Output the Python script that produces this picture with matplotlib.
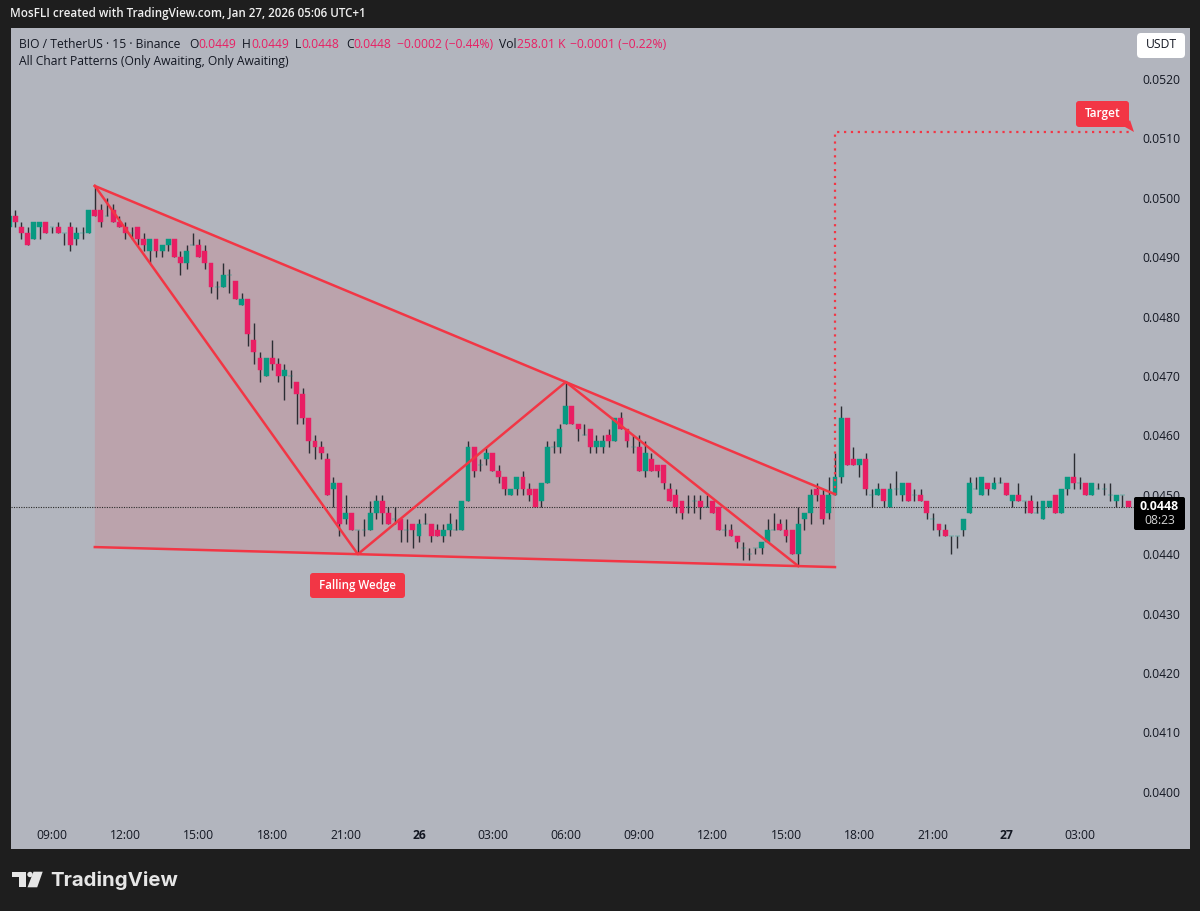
import numpy as np
import matplotlib
matplotlib.use('Agg')
import matplotlib.pyplot as plt
from matplotlib.patches import Polygon, FancyBboxPatch

# candles, prices in units of 0.0001, first bar is 7 bars before 09:00
opens = [495,497,495,494,493,495,496,495,495,494,
         495,493,494,494,498,498,497,498,496,495,
         494,495,493,491,493,491,492,493,490,489,
         492,492,491,489,485,485,487,486,482,483,
         476,473,470,473,472,470,470,469,467,463,
         459,458,456,451,452,446,447,444,444,444,
         447,449,447,446,446,444,445,443,445,445,
         444,443,444,444,444,449,458,455,456,457,
         454,453,450,451,453,451,451,449,452,458,
         458,462,465,462,460,461,458,458,460,459,
         463,461,458,458,454,456,455,455,451,450,
         449,448,449,449,448,449,448,444,444,443,
         441,440,441,441,442,444,445,444,444,440,
         446,447,451,450,447,450,453,463,456,455,
         456,450,450,451,448,451,450,452,450,450,
         449,446,445,444,443,443,444,447,451,450,
         452,451,452,452,449,450,449,449,447,446,
         448,450,447,451,453,452,452,450,451,451,
         450,449,450,449]
highs = [497,498,496,495,496,496,496,495,496,494,
         496,495,495,498,502,499,500,499,497,496,
         495,495,494,493,493,492,493,493,491,492,
         494,493,492,489,486,489,488,486,484,483,
         479,474,473,476,473,472,471,469,468,463,
         460,459,457,453,452,450,447,444,446,449,
         450,450,448,448,446,446,445,446,447,445,
         445,445,447,446,449,459,458,456,458,457,
         455,453,451,453,454,452,451,452,459,459,
         462,469,465,462,462,461,460,460,461,463,
         464,461,460,460,459,457,455,455,452,451,
         449,450,450,450,450,449,448,445,445,443,
         442,441,441,442,446,447,446,446,444,448,
         447,451,452,451,453,457,465,463,458,456,
         457,451,452,451,452,454,452,452,451,451,
         449,447,445,445,443,443,446,453,453,453,
         452,453,453,452,450,452,449,450,449,449,
         449,450,451,453,457,453,452,452,452,452,
         452,450,450,449]
lows = [495,495,493,492,493,493,494,494,494,492,
        491,492,493,494,497,495,497,496,495,493,
        493,492,491,489,490,490,491,490,487,488,
        492,490,488,484,483,485,484,483,482,475,
        472,469,470,471,469,466,468,462,462,457,
        456,456,450,448,443,445,444,440,443,444,
        446,445,445,445,442,442,441,442,445,442,
        443,442,443,444,444,449,453,454,455,454,
        452,450,450,450,450,449,448,448,452,457,
        457,462,462,459,460,457,457,457,458,459,
        461,458,457,454,453,454,453,451,449,447,
        446,447,447,446,448,447,444,443,443,441,
        439,439,440,440,442,444,444,442,440,438,
        444,445,449,445,446,450,452,455,455,453,
        450,448,450,448,448,450,449,449,449,449,
        446,444,443,443,440,441,443,447,451,450,
        450,451,452,450,448,449,447,447,447,446,
        448,447,447,450,451,451,450,450,451,450,
        449,448,448,448]
closes = [497,496,494,492,496,496,494,495,494,494,
          492,494,494,498,497,496,497,496,495,494,
          494,493,492,493,491,492,493,490,489,491,
          492,490,489,485,485,487,487,483,483,477,
          474,471,473,472,470,471,470,467,463,459,
          458,457,450,452,445,447,444,444,444,447,
          449,447,445,446,444,444,444,445,445,443,
          443,444,445,444,449,458,454,455,457,454,
          453,451,451,453,451,450,448,452,458,458,
          461,465,462,461,460,458,459,459,459,463,
          461,459,458,454,457,454,454,452,449,448,
          447,448,449,448,448,447,444,444,443,442,
          441,440,441,442,444,444,444,443,440,445,
          447,450,450,446,450,453,463,455,455,456,
          451,450,451,449,451,451,452,449,450,449,
          447,446,444,443,443,443,446,452,451,453,
          451,452,452,450,450,449,449,447,447,449,
          449,447,451,453,452,452,450,452,451,451,
          450,450,450,448]
first_bar = -7

# pattern lines, (bar, price in 0.0001)
upper_bars = [7, 128]
upper_prices = [502, 450.1]
lower_bars = [7, 128]
lower_prices = [441.2, 437.83]
zigzag_bars = [7, 50, 84, 122]
zigzag_prices = [502, 440, 469, 438]
target_bars = [128, 128, 176.7]
target_prices = [450, 511, 511]
last_price = 448

price_ticks = [400,410,420,430,440,450,460,470,480,490,500,510,520]
time_ticks = [0,12,24,36,48,60,72,84,96,108,120,132,144,156,168]
time_labels = ['09:00','12:00','15:00','18:00','21:00','26','03:00','06:00',
               '09:00','12:00','15:00','18:00','21:00','27','03:00']

frame = '#1e1e1e'
chart_bg = '#b2b5be'
green = '#089981'
pink = '#e91e63'
red = '#f23645'
dark = '#131722'
font = 'Open Sans'

W, H = 1200, 911
plt.rcParams['font.family'] = [font, 'DejaVu Sans']
fig = plt.figure(figsize=(W/100, H/100), dpi=100, facecolor=frame)

def fx(x):
    return x/W

def fy(y):
    return 1 - y/H

def label(x, y, s, **kw):
    kw.setdefault('va', 'center')
    kw.setdefault('color', dark)
    kw.setdefault('fontsize', 8.7)
    return fig.text(fx(x), fy(y), s, **kw)

def box(x0, y0, x1, y1, col, radius=3, zorder=1):
    # rounded rectangle given in picture pixels
    patch = FancyBboxPatch((x0, H-y1), x1-x0, y1-y0, boxstyle='round,pad=0,rounding_size=%g' % radius,
                           fc=col, ec='none', transform=None, zorder=zorder)
    fig.add_artist(patch)

ax = fig.add_axes([fx(11), fy(849), (1190-11)/W, (849-28)/H], facecolor=chart_bg)
ax.set_xlim((11-52)/6.117, (1190-52)/6.117)
ax.set_ylim((520-(849-79)/5.94)*1e-4, (520-(28-79)/5.94)*1e-4)
for s in ax.spines.values():
    s.set_visible(False)

o = np.array(opens)*1e-4
h = np.array(highs)*1e-4
l = np.array(lows)*1e-4
c = np.array(closes)*1e-4
bars = np.arange(first_bar, first_bar+len(o))

# shaded wedge behind the candles
wedge = Polygon([(upper_bars[0], upper_prices[0]*1e-4), (upper_bars[1], upper_prices[1]*1e-4),
                 (lower_bars[1], lower_prices[1]*1e-4), (lower_bars[0], lower_prices[0]*1e-4)],
                closed=True, fc=red, ec='none', alpha=0.14, zorder=1)
ax.add_patch(wedge)

# candles
ax.axhline(last_price*1e-4, color='#2a2a2a', lw=0.8, ls=(0, (1, 1.2)), zorder=1.5, xmax=(1134-11)/(1190-11))
ax.vlines(bars, l, h, color='#2b2d33', lw=1.0, zorder=2)
colors = [green if cc >= oo else pink for oo, cc in zip(o, c)]
ax.bar(bars, np.abs(c-o), bottom=np.minimum(o, c), width=0.8, color=colors,
       edgecolor=colors, linewidth=0.3, zorder=3)

# pattern lines
ax.plot(upper_bars, np.array(upper_prices)*1e-4, color=red, lw=1.8, zorder=4)
ax.plot(lower_bars, np.array(lower_prices)*1e-4, color=red, lw=1.8, zorder=4)
ax.plot(zigzag_bars, np.array(zigzag_prices)*1e-4, color=red, lw=1.8, zorder=4)
ax.plot(target_bars, np.array(target_prices)*1e-4, color=red, lw=1.6, ls=(0, (1, 2.1)), zorder=4)

# axes labels sit inside the chart
ax.yaxis.tick_right()
ax.set_yticks(np.array(price_ticks)*1e-4)
ax.set_yticklabels(['%.4f' % (p*1e-4) for p in price_ticks])
ax.tick_params(axis='y', length=0, pad=-34, labelsize=8.7, labelcolor=dark)
ax.set_xticks(time_ticks)
ax.set_xticklabels(time_labels)
ax.tick_params(axis='x', length=0, pad=-14.7, labelsize=8.7, labelcolor=dark)
for t in ax.get_xticklabels():
    if len(t.get_text()) == 2:
        t.set_fontweight('bold')

# pattern tags
box(310, 573, 405, 598, red)
label(357.5, 585, 'Falling Wedge', color='white', fontsize=8.3, fontweight='semibold', ha='center')
box(1076, 101, 1129, 127, red)
label(1102.5, 113.5, 'Target', color='white', fontsize=8.6, fontweight='semibold', ha='center')
fig.add_artist(Polygon([(fx(1125), fy(127)), (fx(1130), fy(120)), (fx(1134), fy(132))],
                       closed=True, fc=red, ec='none'))

# header
label(10, 13, 'MosFLI created with TradingView.com, Jan 27, 2026 05:06 UTC+1',
      color='#f0f0f0', fontsize=8.35, fontweight='semibold')
label(19, 44, 'BIO / TetherUS · 15 · Binance')
for x, s, col in [(189, 'O', dark), (198, '0.0449', pink), (242, 'H', dark), (251, '0.0449', pink),
                  (295, 'L', dark), (301, '0.0448', pink), (346, 'C', dark), (353, '0.0448', pink),
                  (397, '−0.0002 (−0.44%)', pink), (499, 'Vol', dark), (517, '258.01 K', pink),
                  (570, '−0.0001 (−0.22%)', pink)]:
    label(x, 44, s, color=col)
label(19, 62, 'All Chart Patterns (Only Awaiting, Only Awaiting)')

# USDT button
box(1137, 33, 1185, 58, 'white', radius=4)
label(1161, 45, 'USDT', ha='center', fontsize=8.7)

# last price box
box(1134, 497, 1185, 530, 'black', radius=2)
label(1159.5, 507, '%.4f' % (last_price*1e-4), color='white', ha='center', fontweight='bold', fontsize=8.9)
label(1159.5, 521, '08:23', color='#d6d6d6', ha='center', fontsize=8.7)

# TradingView logo
logo = '#e6e6e6'
fig.add_artist(Polygon([(fx(12.3), fy(871.7)), (fx(26), fy(871.7)), (fx(26), fy(887.3)), (fx(19), fy(887.3)),
                        (fx(19), fy(877.3)), (fx(12.3), fy(877.3))], closed=True, fc=logo, ec='none'))
fig.add_artist(Polygon([(fx(33.5), fy(871.7)), (fx(42.7), fy(871.7)), (fx(37.2), fy(887.3)), (fx(27.5), fy(887.3))],
                       closed=True, fc=logo, ec='none'))
fig.add_artist(plt.Circle((30, H-874.5), 2.7, fc=logo, ec='none', transform=None))
label(50, 880, 'TradingView', color=logo, fontsize=14.7, fontweight='bold', family='Inter')

fig.savefig('out.png', dpi=100, facecolor=frame)
